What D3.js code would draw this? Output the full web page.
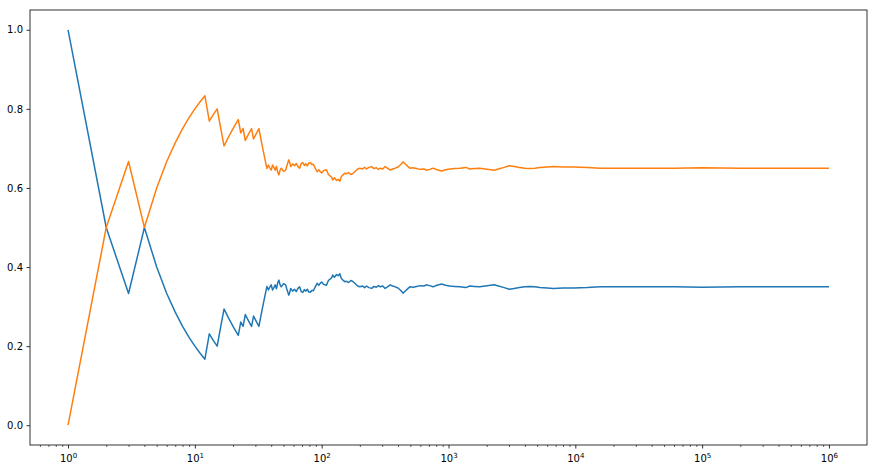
<!DOCTYPE html>
<html>
<head>
<meta charset="utf-8">
<script src="https://cdn.jsdelivr.net/npm/d3@7"></script>
<style>
  body { margin: 0; background: #fff; }
  #chart text { font-family: "DejaVu Sans", sans-serif; }
</style>
</head>
<body>
<div id="chart"></div>
<script>
// Number of trials (x, log scale)
var trials = [
    1, 2, 3, 4, 5, 6, 7, 8, 9, 10, 11, 12, 13, 14, 15, 16, 17, 18, 19, 20,
    21, 22, 23, 24, 25, 26, 27, 28, 29, 30, 31, 32, 33, 34, 35, 36, 37, 38, 39, 40,
    41, 42, 43, 44, 45, 46, 47, 48, 50, 52, 53, 55, 56, 57, 59, 61, 63, 65, 67, 69,
    71, 73, 75, 77, 79, 81, 84, 86, 89, 92, 95, 98, 100, 103, 106, 109, 113, 117, 120, 122,
    126, 131, 135, 139, 143, 147, 152, 157, 163, 170, 177, 185, 192, 200, 210, 218, 226, 236, 248, 258,
    270, 280, 290, 303, 316, 330, 347, 362, 380, 400, 416, 428, 438, 452, 466, 480, 496, 525, 560, 600,
    640, 668, 710, 756, 810, 855, 880, 950, 1023, 1120, 1230, 1370, 1470, 1600, 1760, 1950, 2290, 2475, 2750, 3010,
    3300, 3620, 4000, 4360, 4800, 5250, 6000, 6700, 8000, 9700, 12400, 15700, 20000, 33000, 60000, 100000, 200000, 400000, 1000000
];

// Running share of the first outcome (blue)
var blueShare = [
    1.000, 0.500, 0.333, 0.500, 0.400, 0.333, 0.286, 0.250, 0.222, 0.200, 0.182, 0.167, 0.231, 0.214, 0.200, 0.250, 0.294, 0.278, 0.263, 0.250,
    0.238, 0.227, 0.261, 0.250, 0.280, 0.269, 0.259, 0.250, 0.276, 0.267, 0.258, 0.250, 0.273, 0.294, 0.314, 0.333, 0.351, 0.342, 0.349, 0.355,
    0.342, 0.348, 0.355, 0.345, 0.360, 0.367, 0.355, 0.350, 0.358, 0.355, 0.345, 0.329, 0.336, 0.346, 0.339, 0.344, 0.338, 0.346, 0.350, 0.338,
    0.336, 0.343, 0.339, 0.344, 0.337, 0.336, 0.341, 0.340, 0.350, 0.359, 0.354, 0.360, 0.362, 0.357, 0.355, 0.354, 0.366, 0.370, 0.373, 0.380,
    0.374, 0.381, 0.378, 0.383, 0.371, 0.367, 0.363, 0.364, 0.361, 0.366, 0.363, 0.357, 0.352, 0.350, 0.352, 0.348, 0.352, 0.348, 0.346, 0.351,
    0.349, 0.353, 0.350, 0.352, 0.346, 0.350, 0.355, 0.352, 0.350, 0.347, 0.342, 0.338, 0.334, 0.338, 0.342, 0.346, 0.350, 0.349, 0.351, 0.353,
    0.352, 0.355, 0.353, 0.350, 0.354, 0.356, 0.357, 0.354, 0.352, 0.351, 0.350, 0.348, 0.352, 0.351, 0.350, 0.352, 0.355, 0.352, 0.348, 0.344,
    0.346, 0.348, 0.350, 0.351, 0.350, 0.348, 0.347, 0.346, 0.347, 0.347, 0.348, 0.350, 0.350, 0.350, 0.350, 0.349, 0.350, 0.350, 0.350
];

// Running share of the second outcome (orange)
var orangeShare = [
    0.000, 0.500, 0.667, 0.500, 0.600, 0.667, 0.714, 0.750, 0.778, 0.800, 0.818, 0.833, 0.769, 0.786, 0.800, 0.750, 0.706, 0.722, 0.737, 0.750,
    0.762, 0.773, 0.739, 0.750, 0.720, 0.731, 0.741, 0.750, 0.724, 0.733, 0.742, 0.750, 0.727, 0.706, 0.686, 0.667, 0.649, 0.658, 0.651, 0.645,
    0.658, 0.652, 0.645, 0.655, 0.640, 0.633, 0.645, 0.650, 0.642, 0.645, 0.655, 0.671, 0.664, 0.654, 0.661, 0.656, 0.662, 0.654, 0.650, 0.662,
    0.664, 0.657, 0.661, 0.656, 0.663, 0.664, 0.659, 0.660, 0.650, 0.641, 0.646, 0.640, 0.638, 0.643, 0.645, 0.646, 0.634, 0.630, 0.627, 0.620,
    0.626, 0.619, 0.622, 0.617, 0.629, 0.633, 0.637, 0.636, 0.639, 0.634, 0.637, 0.643, 0.648, 0.650, 0.648, 0.652, 0.648, 0.652, 0.654, 0.649,
    0.651, 0.647, 0.650, 0.648, 0.654, 0.650, 0.645, 0.648, 0.650, 0.653, 0.658, 0.662, 0.666, 0.662, 0.658, 0.654, 0.650, 0.651, 0.649, 0.647,
    0.648, 0.645, 0.647, 0.650, 0.646, 0.644, 0.643, 0.646, 0.648, 0.649, 0.650, 0.652, 0.648, 0.649, 0.650, 0.648, 0.645, 0.648, 0.652, 0.656,
    0.654, 0.652, 0.650, 0.649, 0.650, 0.652, 0.653, 0.654, 0.653, 0.653, 0.652, 0.650, 0.650, 0.650, 0.650, 0.651, 0.650, 0.650, 0.650
];

var xMajorTicks = [1, 10, 100, 1000, 10000, 100000, 1000000];
var xTickExponents = ["0", "1", "2", "3", "4", "5", "6"];
var yTicks = [0.0, 0.2, 0.4, 0.6, 0.8, 1.0];

function drawChart() {
    d3.select("#chart").select("svg").remove();

    var W = 877, H = 473;
    var margin = { top: 10, right: 10, bottom: 28, left: 30 };

    var svg = d3.select("#chart").append("svg")
        .attr("width", W)
        .attr("height", H);

    svg.append("rect").attr("width", W).attr("height", H).attr("fill", "#fff");

    // log x axis with 5% padding (in log space) like matplotlib
    var x = d3.scaleLog()
        .domain([Math.pow(10, -0.3), Math.pow(10, 6.3)])
        .range([margin.left, W - margin.right]);

    var y = d3.scaleLinear()
        .domain([-0.05, 1.05])
        .range([H - margin.bottom, margin.top]);

    // minor ticks 2..9 per decade
    var minor = [];
    for (var e = -1; e <= 6; e++) {
        for (var m = 2; m <= 9; m++) {
            var v = m * Math.pow(10, e);
            if (v >= x.domain()[0] && v <= x.domain()[1]) minor.push(v);
        }
    }

    var bottom = H - margin.bottom;

    svg.append("g")
        .attr("transform", `translate(0,${bottom})`)
        .call(d3.axisBottom(x).tickValues(minor).tickSize(2).tickFormat(""))
        .call(g => g.select(".domain").remove())
        .selectAll("line").attr("stroke", "#000").attr("stroke-width", 0.6);

    var xAxis = svg.append("g")
        .attr("transform", `translate(0,${bottom})`)
        .call(d3.axisBottom(x).tickValues(xMajorTicks).tickSize(3.5).tickPadding(3.5).tickFormat(""))
        .call(g => g.select(".domain").remove());
    xAxis.selectAll("line").attr("stroke", "#000").attr("stroke-width", 0.8);

    // 10^k labels with superscript
    xAxis.selectAll(".tick").each(function (d, i) {
        var t = d3.select(this).select("text")
            .attr("font-size", 10)
            .attr("fill", "#000")
            .attr("dy", null)
            .attr("y", 17);
        t.append("tspan").text("10");
        t.append("tspan").attr("font-size", 7).attr("dy", -4).text(xTickExponents[i]);
    });

    var yAxis = svg.append("g")
        .attr("transform", `translate(${margin.left},0)`)
        .call(d3.axisLeft(y).tickValues(yTicks).tickSize(3.5).tickPadding(3.5).tickFormat(d3.format(".1f")))
        .call(g => g.select(".domain").remove());
    yAxis.selectAll("line").attr("stroke", "#000").attr("stroke-width", 0.8);
    yAxis.selectAll("text").attr("font-size", 10).attr("fill", "#000");

    // lines
    var line = d3.line()
        .x(d => x(d.n))
        .y(d => y(d.v));

    var series = [
        { values: blueShare, color: "#1f77b4" },
        { values: orangeShare, color: "#ff7f0e" }
    ];

    var clip = svg.append("clipPath").attr("id", "plot-clip")
        .append("rect")
        .attr("x", margin.left).attr("y", margin.top)
        .attr("width", W - margin.left - margin.right)
        .attr("height", H - margin.top - margin.bottom);

    series.forEach(function (s) {
        var pts = trials.map((n, i) => ({ n: n, v: s.values[i] }));
        svg.append("path")
            .datum(pts)
            .attr("clip-path", "url(#plot-clip)")
            .attr("fill", "none")
            .attr("stroke", s.color)
            .attr("stroke-width", 1.5)
            .attr("stroke-linejoin", "round")
            .attr("d", line);
    });

    // frame
    svg.append("rect")
        .attr("x", margin.left).attr("y", margin.top)
        .attr("width", W - margin.left - margin.right)
        .attr("height", H - margin.top - margin.bottom)
        .attr("fill", "none")
        .attr("stroke", "#000")
        .attr("stroke-width", 0.8);
}

document.addEventListener('DOMContentLoaded', drawChart);
</script>
</body>
</html>
